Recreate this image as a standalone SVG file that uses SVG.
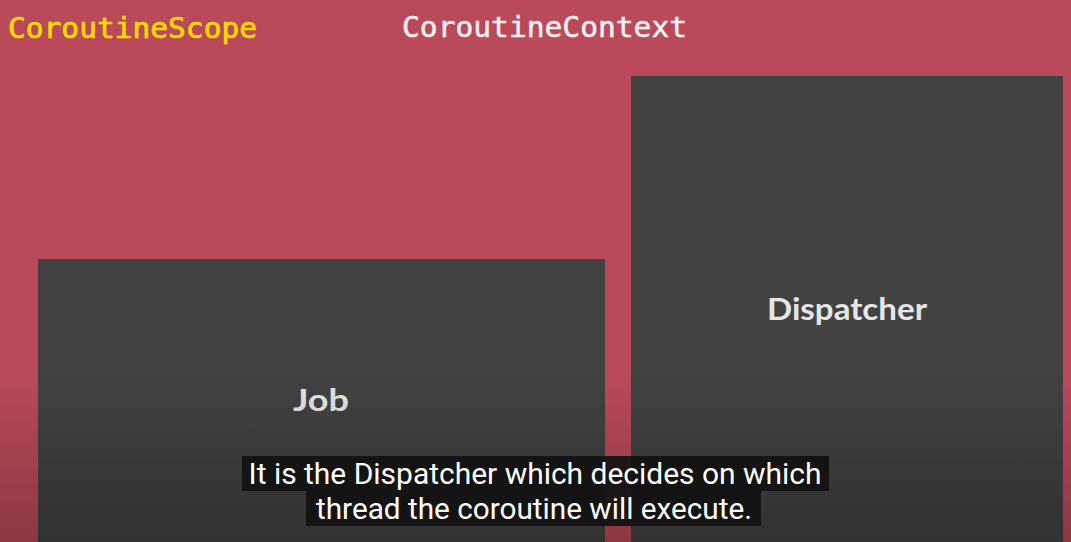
<svg xmlns="http://www.w3.org/2000/svg" width="1071" height="542" viewBox="0 0 1071 542">
  <defs>
    <linearGradient id="shade" x1="0" y1="0" x2="0" y2="1">
      <stop offset="0" stop-color="#000" stop-opacity="0"/>
      <stop offset="1" stop-color="#000" stop-opacity="0.25"/>
    </linearGradient>
  </defs>
  <style>
    .title { font-family: "DejaVu Sans Mono", "Liberation Mono", monospace; font-size: 28px; }
    .box { fill: #424242; }
    .label { font-family: Lato, "Open Sans", sans-serif; font-weight: bold; font-size: 30px; fill: #e6e6e6; text-anchor: middle; }
    .sub { font-family: Roboto, "Liberation Sans", sans-serif; font-size: 30px; fill: #ffffff; text-anchor: middle; }
    .subbg { fill: #111111; fill-opacity: 0.92; }
  </style>
  <rect width="1071" height="542" fill="#BA4A5A"/>
  <g id="scope-title">
    <text class="title" x="8" y="38" fill="#FFDA00" stroke="#FFDA00" stroke-width="0.7" textLength="249" lengthAdjust="spacingAndGlyphs">CoroutineScope</text>
  </g>
  <g id="context-title">
    <text class="title" x="402" y="37" fill="#F4F0F0" stroke="#F4F0F0" stroke-width="0.5" textLength="285" lengthAdjust="spacingAndGlyphs">CoroutineContext</text>
  </g>
  <g id="job">
    <rect class="box" x="38" y="259" width="567" height="290"/>
    <text class="label" x="321" y="411" textLength="56" lengthAdjust="spacingAndGlyphs">Job</text>
  </g>
  <g id="dispatcher">
    <rect class="box" x="631" y="76" width="432" height="470"/>
    <text class="label" x="847" y="320" textLength="160" lengthAdjust="spacingAndGlyphs">Dispatcher</text>
  </g>
  <g id="connectors"/>
  <rect x="0" y="370" width="1071" height="172" fill="url(#shade)"/>
  <g id="subtitle">
    <rect class="subbg" x="242" y="456" width="587" height="35"/>
    <rect class="subbg" x="306" y="491" width="455" height="35"/>
    <text class="sub" x="535" y="484" textLength="573" lengthAdjust="spacingAndGlyphs">It is the Dispatcher which decides on which</text>
    <text class="sub" x="534" y="519" textLength="436" lengthAdjust="spacingAndGlyphs">thread the coroutine will execute.</text>
  </g>
</svg>
